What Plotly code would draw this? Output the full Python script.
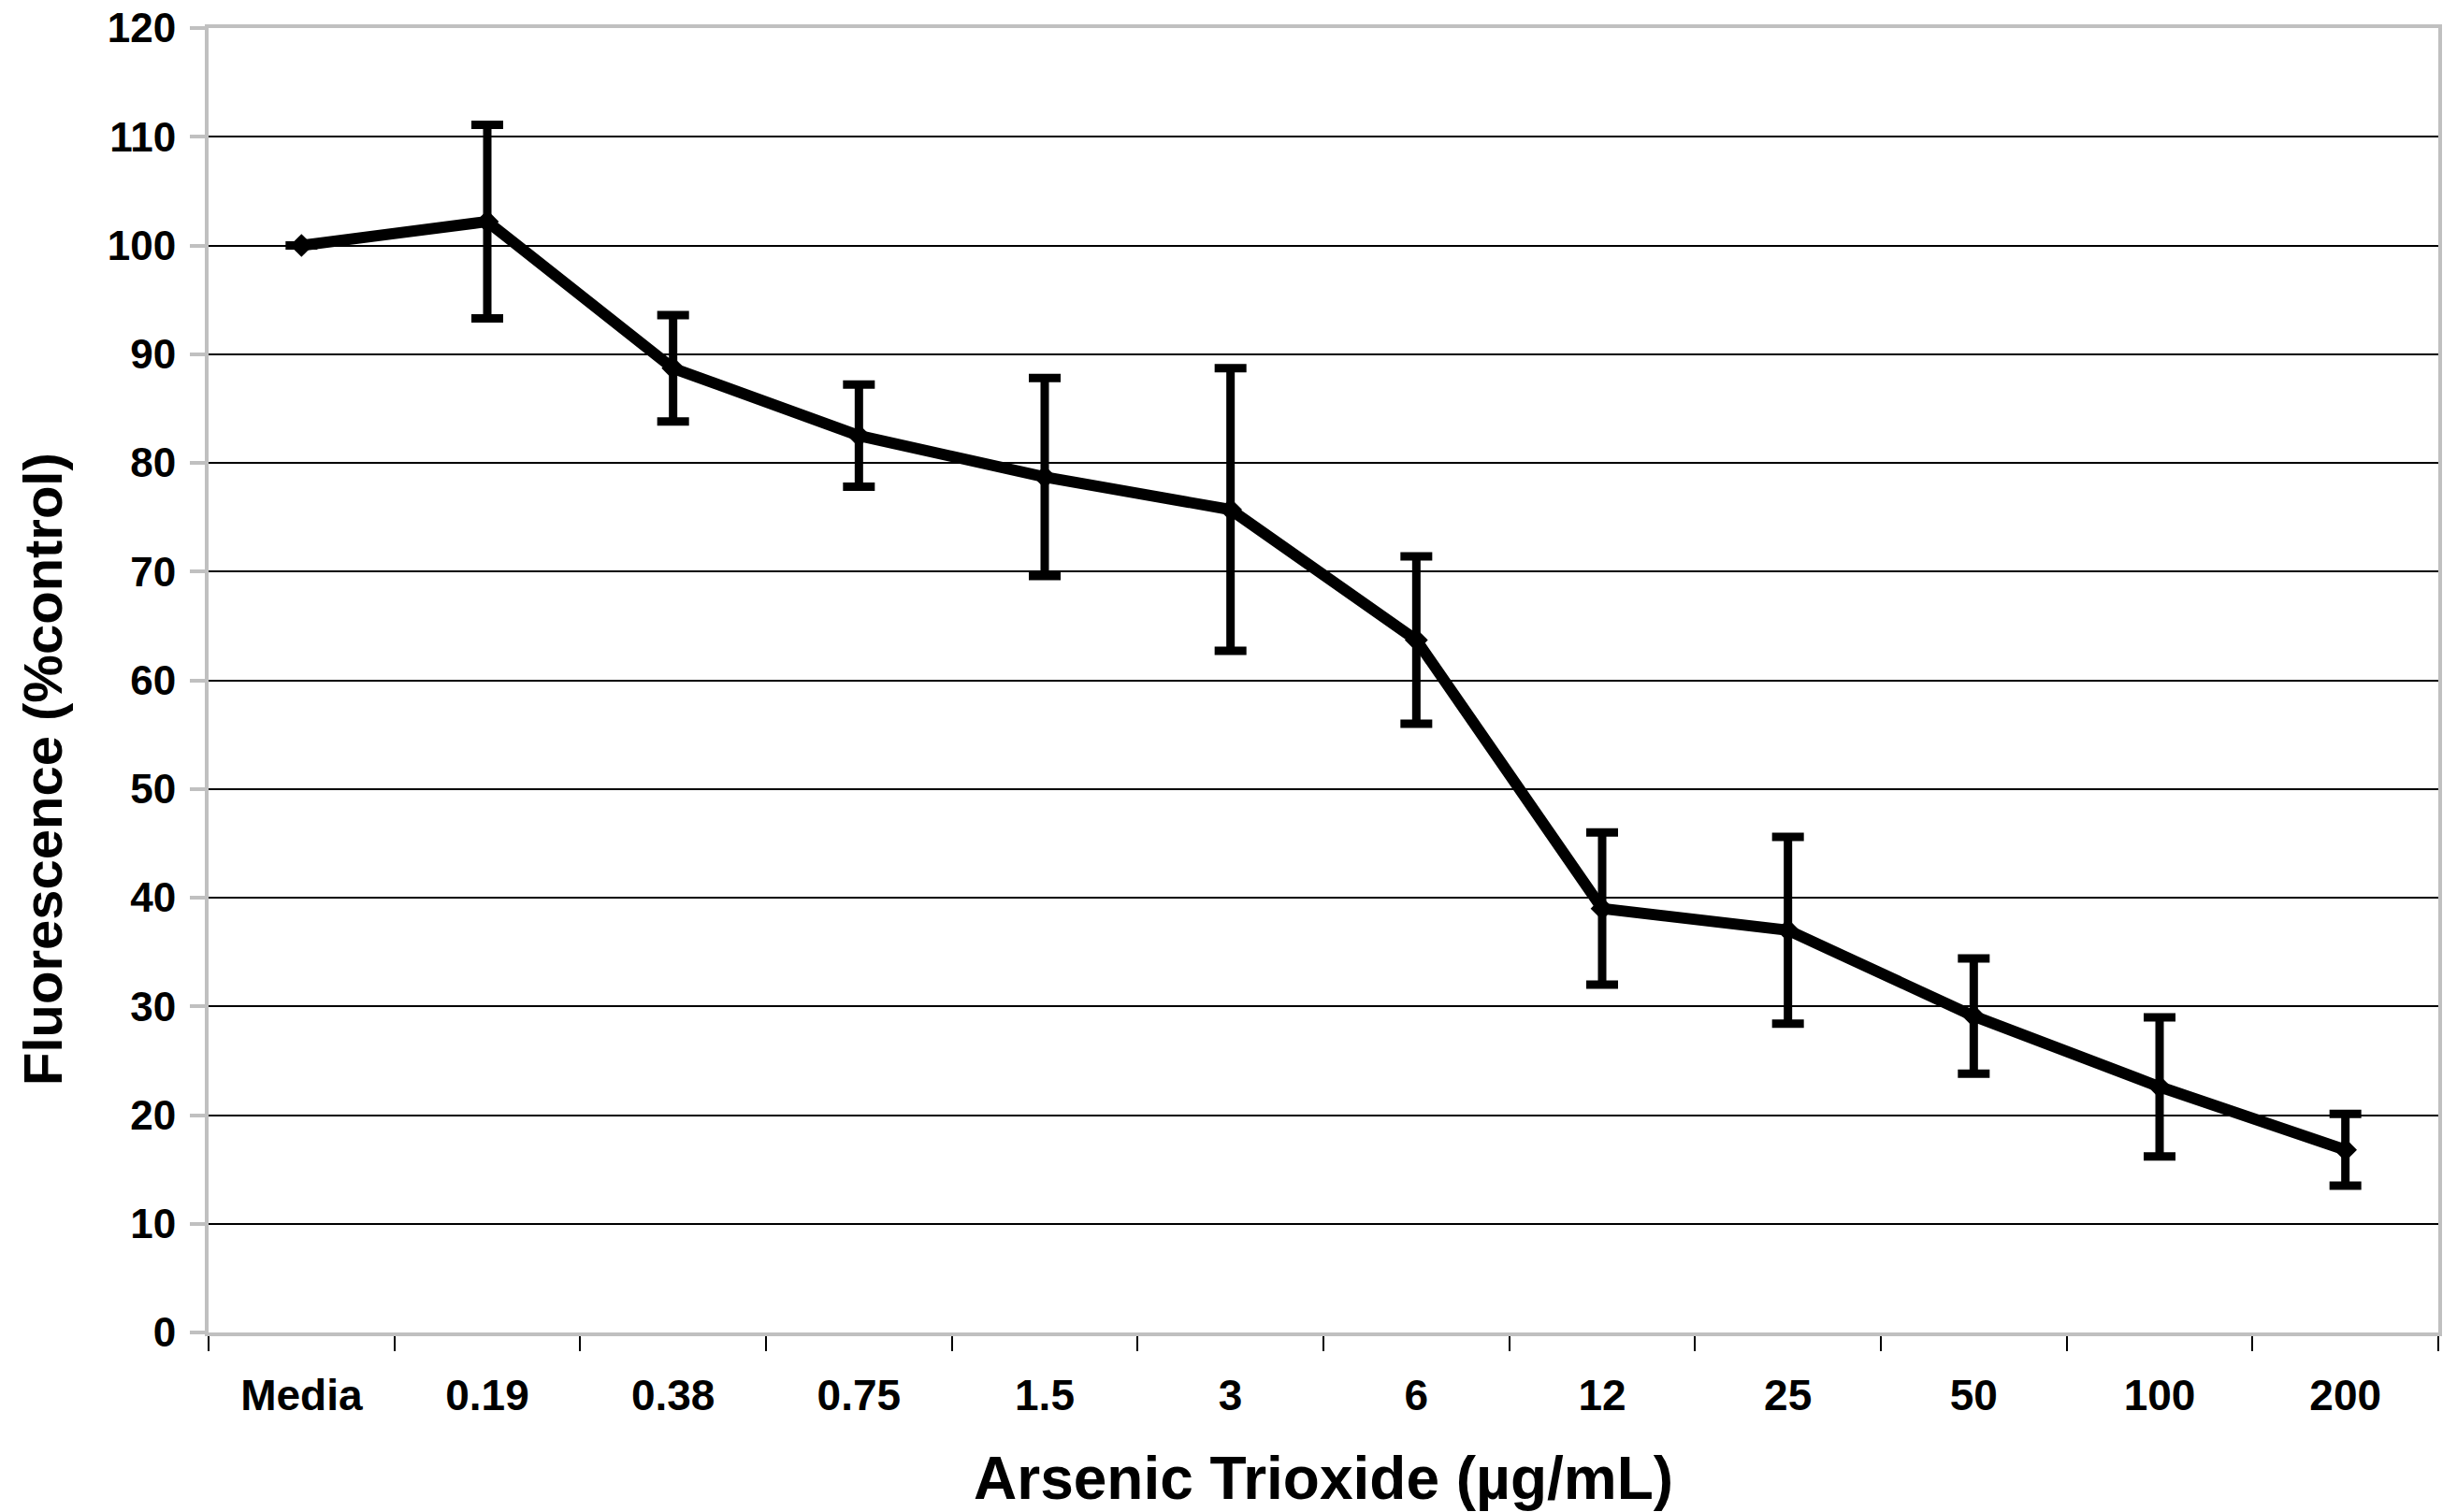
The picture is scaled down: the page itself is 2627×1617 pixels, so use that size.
import plotly.graph_objects as go

categories = ["Media", "0.19", "0.38", "0.75", "1.5", "3", "6", "12", "25", "50", "100", "200"]
fluorescence = [100.0, 102.2, 88.7, 82.5, 78.7, 75.7, 63.7, 39.0, 37.0, 29.1, 22.6, 16.8]
error = [0.0, 8.9, 4.9, 4.7, 9.1, 13.0, 7.7, 7.0, 8.6, 5.3, 6.4, 3.3]
y_ticks = [0, 10, 20, 30, 40, 50, 60, 70, 80, 90, 100, 110, 120]

W, H = 2627, 1617
L, R, T, B = 223, 20, 30, 192
FONT = "Liberation Sans, Arial, sans-serif"

fig = go.Figure()
fig.add_trace(go.Scatter(
    x=categories, y=fluorescence,
    mode="lines+markers",
    line=dict(color="black", width=12),
    marker=dict(symbol="diamond", size=19, color="black"),
    error_y=dict(type="data", array=error, visible=True,
                 color="black", thickness=9, width=17),
    showlegend=False,
))

pw = W - L - R
ph = H - T - B
y0 = H - B  # pixel row of y=0

fig.update_layout(
    width=W, height=H,
    margin=dict(l=L, r=R, t=T, b=B, autoexpand=False),
    plot_bgcolor="white", paper_bgcolor="white",
    font=dict(family=FONT, color="black"),
    xaxis=dict(
        type="category", range=[-0.5, len(categories) - 0.5],
        showline=True, linecolor="#c0c0c0", linewidth=4, mirror=True,
        ticks="outside", tickson="boundaries", ticklen=16, tickwidth=2, tickcolor="black",
        tickfont=dict(family=FONT, size=46, color="black", weight="bold"),
        ticklabelstandoff=24, ticklabeloverflow="allow", automargin=False,
        showgrid=False, zeroline=False,
    ),
    yaxis=dict(
        range=[0, 120], tickvals=y_ticks,
        showline=True, linecolor="#c0c0c0", linewidth=4, mirror=True,
        ticks="outside", ticklen=16, tickwidth=4, tickcolor="#c0c0c0",
        tickfont=dict(family=FONT, size=44, color="black", weight="bold"),
        ticklabelstandoff=6, ticklabeloverflow="allow", automargin=False,
        showgrid=True, gridcolor="black", gridwidth=1.5,
        zeroline=False,
    ),
    annotations=[
        dict(text="Arsenic Trioxide (µg/mL)", xref="paper", yref="paper",
             x=(1415 - L) / pw, y=(y0 - 1581) / ph,
             xanchor="center", yanchor="middle", showarrow=False,
             font=dict(family=FONT, size=64, color="black", weight="bold")),
        dict(text="Fluorescence (%control)", xref="paper", yref="paper",
             x=(45 - L) / pw, y=(y0 - 823) / ph, textangle=-90,
             xanchor="center", yanchor="middle", showarrow=False,
             font=dict(family=FONT, size=58, color="black", weight="bold")),
    ],
)

fig.write_html("out.html",
               config={"displayModeBar": False},
               post_script="document.body.style.margin='0';document.body.style.padding='0';")
